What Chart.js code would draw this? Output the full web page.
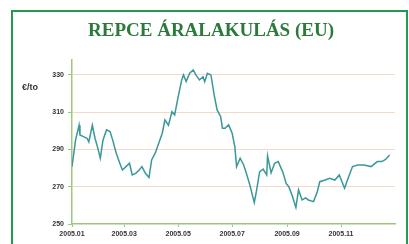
<!DOCTYPE html>
<html><head><meta charset="utf-8">
<script src="https://cdn.jsdelivr.net/npm/chart.js@4/dist/chart.umd.min.js"></script>
<style>
html,body{margin:0;padding:0;background:#fff;}
#wrap{position:relative;width:409px;height:244px;overflow:hidden;}
#frame{position:absolute;left:11px;top:10px;width:397px;height:260px;border:2px solid #1f9a4e;box-sizing:border-box;}
canvas{position:absolute;left:0;top:0;}
</style></head>
<body>
<div id="wrap"><div id="frame"></div><canvas id="c" width="409" height="244"></canvas></div>
<script>
const title = "REPCE ÁRALAKULÁS (EU)";
const unitLabel = "€/to";
// day of year 2005 (0 = Jan 1)
const days = [0,4,8,9,13,17,19,23,26,29,32,35,39,43,46,50,54,57,61,65,68,72,76,79,83,87,90,94,98,102,105,109,113,116,120,124,126,129,133,137,140,144,148,150,153,157,161,164,168,170,173,177,181,184,186,190,194,197,201,206,208,212,216,220,221,225,229,233,238,242,245,249,253,256,260,264,267,273,277,280,286,291,297,302,308,312,317,323,330,338,345,350,354,359];
const prices = [280.8,295,303,297.8,296.9,296,294,303,296,291,285.3,295,300.5,299.6,295,288,282.6,279,280.8,282.6,276.3,277.2,279,280.8,277.2,275,284.4,288,293.3,298.7,305.8,303,310.3,308.5,318.4,327.3,330,326.4,330.9,332.7,330,327.3,329,326.4,330.9,330,318.4,311.2,307.6,301.4,301.4,303.2,298.7,291.5,280.8,285.3,281.7,277.2,270.9,261.5,266.5,278,279.5,276.3,286.5,277.5,282.6,283.5,278.1,271.8,270,265,258.9,268.3,262.9,264,262.9,262,267,272.7,273.6,274.5,273.6,276.3,269.2,274.5,280.8,281.7,281.7,280.8,283.5,283.5,284.5,287];
const xTickDays = [0,59,120,181,243,304];
const xTickLabels = ["2005.01","2005.03","2005.05","2005.07","2005.09","2005.11"];
const yTicks = [250,270,290,310,330];

const points = days.map((d,i)=>({x:d,y:prices[i]}));

const overlay = {
  id:'overlay',
  afterDraw(chart){
    const ctx = chart.ctx;
    ctx.save();
    ctx.fillStyle = '#2b7a3c';
    ctx.font = 'bold 19px "Liberation Serif", serif';
    ctx.textAlign = 'center';
    ctx.textBaseline = 'middle';
    ctx.fillText(title, 211, 31);
    ctx.fillStyle = '#333';
    ctx.font = 'bold 9px "Liberation Sans", Arial, sans-serif';
    ctx.textAlign = 'left';
    ctx.fillText(unitLabel, 22, 88);
    ctx.restore();
  }
};

new Chart(document.getElementById('c'), {
  type:'line',
  data:{datasets:[{data:points,borderColor:'#3a9898',borderWidth:1.5,pointRadius:0,tension:0,fill:false}]},
  options:{
    responsive:false,animation:false,
    layout:{padding:{top:60,right:14,left:0,bottom:0}},
    plugins:{legend:{display:false},tooltip:{enabled:false}},
    scales:{
      x:{type:'linear',min:0,max:365,
        afterFit(s){s.height=20;},
        afterBuildTicks(s){s.ticks = xTickDays.map(v=>({value:v}));},
        ticks:{autoSkip:false,maxRotation:0,padding:3,color:'#333',font:{size:7,weight:'bold',family:'"Liberation Sans", Arial'},
          callback:(v,i)=>xTickLabels[i]},
        grid:{drawOnChartArea:false,tickLength:3,color:'#9cc87c'},
        border:{color:'#9cc87c',width:1.5}
      },
      y:{min:250,max:338,
        afterFit(s){s.width=72;},
        afterBuildTicks(s){s.ticks = yTicks.map(v=>({value:v}));},
        ticks:{padding:4,color:'#333',font:{size:7,weight:'bold',family:'"Liberation Sans", Arial'}},
        grid:{color:(c)=> c.tick && c.tick.value===250 ? 'rgba(0,0,0,0)' : 'rgba(240,190,160,0.6)',tickLength:4,tickColor:'#9cc87c'},
        border:{color:'#9cc87c',width:1.5}
      }
    }
  },
  plugins:[overlay]
});
</script>
</body></html>
